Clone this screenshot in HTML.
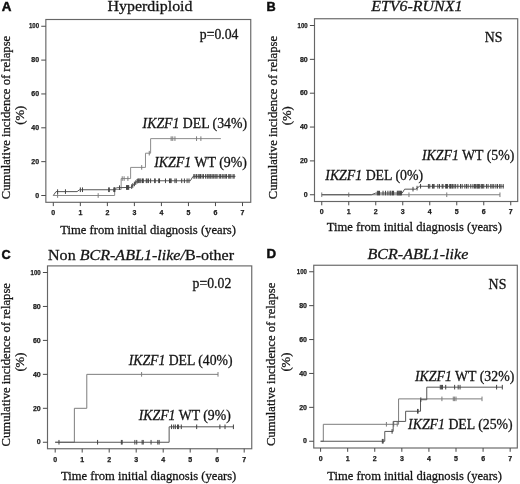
<!DOCTYPE html>
<html><head><meta charset="utf-8"><title>Figure</title>
<style>
html,body{margin:0;padding:0;background:#fff;}
svg{display:block;}
text{fill:#141414;stroke:#141414;stroke-width:0.28px;}
.tk{font-family:"Liberation Sans",sans-serif;font-size:7px;font-weight:bold;fill:#1a1a1a;stroke:#1a1a1a;stroke-width:0.25px;}
.pl{font-family:"Liberation Sans",sans-serif;font-size:12px;font-weight:bold;fill:#0c0c0c;stroke-width:0.45px;}
.tt{font-family:"Liberation Serif",serif;font-size:14.8px;}
.an{font-family:"Liberation Serif",serif;font-size:13.8px;}
.ax{font-family:"Liberation Serif",serif;font-size:12.8px;}
.ay{font-family:"Liberation Serif",serif;font-size:13.4px;}
.ap{font-family:"Liberation Serif",serif;font-size:11.6px;}
</style></head>
<body>
<svg width="520" height="484" viewBox="0 0 520 484">
<rect width="520" height="484" fill="#ffffff"/>
<rect x="45.85" y="19.50" width="204.90" height="182.80" fill="none" stroke="#666666" stroke-width="1.15"/>
<text x="39.05" y="197.70" text-anchor="end" class="tk">0</text>
<text x="39.05" y="163.85" text-anchor="end" class="tk">20</text>
<text x="39.05" y="130.00" text-anchor="end" class="tk">40</text>
<text x="39.05" y="96.15" text-anchor="end" class="tk">60</text>
<text x="39.05" y="62.30" text-anchor="end" class="tk">80</text>
<text x="39.05" y="28.45" text-anchor="end" class="tk" textLength="10.1" lengthAdjust="spacingAndGlyphs">100</text>
<text x="53.30" y="215.20" text-anchor="middle" class="tk">0</text>
<text x="80.33" y="215.20" text-anchor="middle" class="tk">1</text>
<text x="107.36" y="215.20" text-anchor="middle" class="tk">2</text>
<text x="134.39" y="215.20" text-anchor="middle" class="tk">3</text>
<text x="161.42" y="215.20" text-anchor="middle" class="tk">4</text>
<text x="188.45" y="215.20" text-anchor="middle" class="tk">5</text>
<text x="215.48" y="215.20" text-anchor="middle" class="tk">6</text>
<text x="242.51" y="215.20" text-anchor="middle" class="tk">7</text>
<path d="M41.25 195.50H45.85M41.25 161.65H45.85M41.25 127.80H45.85M41.25 93.95H45.85M41.25 60.10H45.85M41.25 26.25H45.85M53.30 202.30V206.10M80.33 202.30V206.10M107.36 202.30V206.10M134.39 202.30V206.10M161.42 202.30V206.10M188.45 202.30V206.10M215.48 202.30V206.10M242.51 202.30V206.10" fill="none" stroke="#4a4a4a" stroke-width="1.0"/>
<rect x="314.50" y="18.75" width="203.20" height="182.75" fill="none" stroke="#666666" stroke-width="1.15"/>
<text x="307.70" y="196.95" text-anchor="end" class="tk">0</text>
<text x="307.70" y="163.10" text-anchor="end" class="tk">20</text>
<text x="307.70" y="129.25" text-anchor="end" class="tk">40</text>
<text x="307.70" y="95.40" text-anchor="end" class="tk">60</text>
<text x="307.70" y="61.55" text-anchor="end" class="tk">80</text>
<text x="307.70" y="27.70" text-anchor="end" class="tk" textLength="10.1" lengthAdjust="spacingAndGlyphs">100</text>
<text x="321.75" y="214.40" text-anchor="middle" class="tk">0</text>
<text x="348.75" y="214.40" text-anchor="middle" class="tk">1</text>
<text x="375.75" y="214.40" text-anchor="middle" class="tk">2</text>
<text x="402.75" y="214.40" text-anchor="middle" class="tk">3</text>
<text x="429.75" y="214.40" text-anchor="middle" class="tk">4</text>
<text x="456.75" y="214.40" text-anchor="middle" class="tk">5</text>
<text x="483.75" y="214.40" text-anchor="middle" class="tk">6</text>
<text x="510.75" y="214.40" text-anchor="middle" class="tk">7</text>
<path d="M309.90 194.75H314.50M309.90 160.90H314.50M309.90 127.05H314.50M309.90 93.20H314.50M309.90 59.35H314.50M309.90 25.50H314.50M321.75 201.50V205.30M348.75 201.50V205.30M375.75 201.50V205.30M402.75 201.50V205.30M429.75 201.50V205.30M456.75 201.50V205.30M483.75 201.50V205.30M510.75 201.50V205.30" fill="none" stroke="#4a4a4a" stroke-width="1.0"/>
<rect x="47.50" y="265.90" width="204.25" height="182.85" fill="none" stroke="#666666" stroke-width="1.15"/>
<text x="40.70" y="444.45" text-anchor="end" class="tk">0</text>
<text x="40.70" y="410.50" text-anchor="end" class="tk">20</text>
<text x="40.70" y="376.55" text-anchor="end" class="tk">40</text>
<text x="40.70" y="342.60" text-anchor="end" class="tk">60</text>
<text x="40.70" y="308.65" text-anchor="end" class="tk">80</text>
<text x="40.70" y="274.70" text-anchor="end" class="tk" textLength="10.1" lengthAdjust="spacingAndGlyphs">100</text>
<text x="55.20" y="461.65" text-anchor="middle" class="tk">0</text>
<text x="82.20" y="461.65" text-anchor="middle" class="tk">1</text>
<text x="109.20" y="461.65" text-anchor="middle" class="tk">2</text>
<text x="136.20" y="461.65" text-anchor="middle" class="tk">3</text>
<text x="163.20" y="461.65" text-anchor="middle" class="tk">4</text>
<text x="190.20" y="461.65" text-anchor="middle" class="tk">5</text>
<text x="217.20" y="461.65" text-anchor="middle" class="tk">6</text>
<text x="244.20" y="461.65" text-anchor="middle" class="tk">7</text>
<path d="M42.90 442.25H47.50M42.90 408.30H47.50M42.90 374.35H47.50M42.90 340.40H47.50M42.90 306.45H47.50M42.90 272.50H47.50M55.20 448.75V452.55M82.20 448.75V452.55M109.20 448.75V452.55M136.20 448.75V452.55M163.20 448.75V452.55M190.20 448.75V452.55M217.20 448.75V452.55M244.20 448.75V452.55" fill="none" stroke="#4a4a4a" stroke-width="1.0"/>
<rect x="313.75" y="265.25" width="203.55" height="182.75" fill="none" stroke="#666666" stroke-width="1.15"/>
<text x="306.95" y="443.45" text-anchor="end" class="tk">0</text>
<text x="306.95" y="409.55" text-anchor="end" class="tk">20</text>
<text x="306.95" y="375.65" text-anchor="end" class="tk">40</text>
<text x="306.95" y="341.75" text-anchor="end" class="tk">60</text>
<text x="306.95" y="307.85" text-anchor="end" class="tk">80</text>
<text x="306.95" y="273.95" text-anchor="end" class="tk" textLength="10.1" lengthAdjust="spacingAndGlyphs">100</text>
<text x="320.60" y="460.90" text-anchor="middle" class="tk">0</text>
<text x="347.68" y="460.90" text-anchor="middle" class="tk">1</text>
<text x="374.76" y="460.90" text-anchor="middle" class="tk">2</text>
<text x="401.84" y="460.90" text-anchor="middle" class="tk">3</text>
<text x="428.92" y="460.90" text-anchor="middle" class="tk">4</text>
<text x="456.00" y="460.90" text-anchor="middle" class="tk">5</text>
<text x="483.08" y="460.90" text-anchor="middle" class="tk">6</text>
<text x="510.16" y="460.90" text-anchor="middle" class="tk">7</text>
<path d="M309.15 441.25H313.75M309.15 407.35H313.75M309.15 373.45H313.75M309.15 339.55H313.75M309.15 305.65H313.75M309.15 271.75H313.75M320.60 448.00V451.80M347.68 448.00V451.80M374.76 448.00V451.80M401.84 448.00V451.80M428.92 448.00V451.80M456.00 448.00V451.80M483.08 448.00V451.80M510.16 448.00V451.80" fill="none" stroke="#4a4a4a" stroke-width="1.0"/>
<path d="M53.30 195.50 H114.66 V189.41 H121.15 V178.57 H130.61 V167.40 H145.47 V153.19 H150.61 V138.63 H220.89 V138.63" fill="none" stroke="#8c8c8c" stroke-width="1.0" stroke-linejoin="miter"/>
<path d="M57.62 193.20v4.60M98.17 193.20v4.60M122.23 176.27v4.60M124.12 176.27v4.60M127.90 176.27v4.60M141.69 165.10v4.60M149.26 150.89v4.60M171.15 136.33v4.60M172.77 136.33v4.60M174.94 136.33v4.60M196.56 136.33v4.60M200.88 136.33v4.60" fill="none" stroke="#7c7c7c" stroke-width="1.0"/>
<path d="M53.30 195.50 L56.00 191.61 L77.09 191.61 L79.52 189.75 L114.66 189.75 L116.82 187.71 L130.88 187.38 L137.63 180.78 L190.34 180.78 L193.05 176.37 L235.48 176.37" fill="none" stroke="#565656" stroke-width="1.0" stroke-linejoin="miter"/>
<path d="M57.62 189.31v4.60M65.46 189.31v4.60M80.33 187.45v4.60M82.49 187.45v4.60M108.71 187.45v4.60M109.25 187.45v4.60M113.85 187.45v4.60M114.39 187.45v4.60M114.93 187.19v4.60M119.52 185.35v4.60M126.55 185.18v4.60M127.09 185.17v4.60M127.63 185.15v4.60M128.17 185.14v4.60M128.71 185.13v4.60M131.69 184.28v4.60M132.77 183.23v4.60M134.39 181.64v4.60M135.74 180.32v4.60M137.09 179.00v4.60M137.90 178.48v4.60M138.71 178.48v4.60M139.80 178.48v4.60M140.88 178.48v4.60M142.50 178.48v4.60M143.31 178.48v4.60M146.28 178.48v4.60M147.09 178.48v4.60M148.45 178.48v4.60M150.61 178.48v4.60M154.66 178.48v4.60M155.20 178.48v4.60M158.72 178.48v4.60M159.53 178.48v4.60M165.47 178.48v4.60M169.53 178.48v4.60M170.34 178.48v4.60M171.15 178.48v4.60M174.94 178.48v4.60M176.29 178.48v4.60M181.69 178.48v4.60M184.40 178.48v4.60M187.10 178.48v4.60M188.99 178.48v4.60M193.86 174.07v4.60M194.94 174.07v4.60M196.56 174.07v4.60M198.18 174.07v4.60M199.26 174.07v4.60M200.48 174.07v4.60M202.10 174.07v4.60M203.45 174.07v4.60M205.61 174.07v4.60M207.24 174.07v4.60M208.18 174.07v4.60M209.80 174.07v4.60M210.75 174.07v4.60M212.10 174.07v4.60M213.32 174.07v4.60M214.94 174.07v4.60M216.02 174.07v4.60M217.10 174.07v4.60M219.26 174.07v4.60M220.62 174.07v4.60M222.24 174.07v4.60M223.86 174.07v4.60M225.21 174.07v4.60M226.56 174.07v4.60M228.72 174.07v4.60M229.81 174.07v4.60M230.89 174.07v4.60M233.05 174.07v4.60M234.13 174.07v4.60" fill="none" stroke="#424242" stroke-width="1.0"/>
<path d="M321.75 194.75 H499.95 V194.75" fill="none" stroke="#7c7c7c" stroke-width="1.0" stroke-linejoin="miter"/>
<path d="M321.75 192.45v4.60M348.75 192.45v4.60M408.96 192.45v4.60M446.76 192.45v4.60M499.95 192.45v4.60" fill="none" stroke="#7c7c7c" stroke-width="1.0"/>
<path d="M321.75 194.75 L371.43 194.75 L375.75 193.06 L402.21 193.06 L404.64 189.16 L415.71 189.16 L419.49 186.29 L504.00 186.29" fill="none" stroke="#565656" stroke-width="1.0" stroke-linejoin="miter"/>
<path d="M377.37 190.76v4.60M378.45 190.76v4.60M379.53 190.76v4.60M383.04 190.76v4.60M385.47 190.76v4.60M387.90 190.76v4.60M390.06 190.76v4.60M390.87 190.76v4.60M392.49 190.76v4.60M393.57 190.76v4.60M397.35 190.76v4.60M398.16 190.76v4.60M398.97 190.76v4.60M399.78 190.76v4.60M400.59 190.76v4.60M401.40 190.76v4.60M413.01 186.86v4.60M417.06 185.84v4.60M420.57 183.99v4.60M428.40 183.99v4.60M429.75 183.99v4.60M432.45 183.99v4.60M433.26 183.99v4.60M434.07 183.99v4.60M437.85 183.99v4.60M439.47 183.99v4.60M442.17 183.99v4.60M442.98 183.99v4.60M445.68 183.99v4.60M446.49 183.99v4.60M447.57 183.99v4.60M449.73 183.99v4.60M450.54 183.99v4.60M451.89 183.99v4.60M452.70 183.99v4.60M454.05 183.99v4.60M455.67 183.99v4.60M457.83 183.99v4.60M460.53 183.99v4.60M462.15 183.99v4.60M464.85 183.99v4.60M466.47 183.99v4.60M468.09 183.99v4.60M470.79 183.99v4.60M472.95 183.99v4.60M474.57 183.99v4.60M475.65 183.99v4.60M477.00 183.99v4.60M477.81 183.99v4.60M478.62 183.99v4.60M479.70 183.99v4.60M481.32 183.99v4.60M482.40 183.99v4.60M483.75 183.99v4.60M486.45 183.99v4.60M488.07 183.99v4.60M490.77 183.99v4.60M492.12 183.99v4.60M493.74 183.99v4.60M495.90 183.99v4.60M497.52 183.99v4.60M499.68 183.99v4.60M501.03 183.99v4.60M503.19 183.99v4.60" fill="none" stroke="#424242" stroke-width="1.0"/>
<path d="M55.20 442.25 H74.37 V408.30 H86.79 V374.35 H218.01 V374.35" fill="none" stroke="#7c7c7c" stroke-width="1.0" stroke-linejoin="miter"/>
<path d="M141.60 372.05v4.60M218.01 372.05v4.60" fill="none" stroke="#7c7c7c" stroke-width="1.0"/>
<path d="M55.20 442.25 H169.14 V426.80 H233.40 V426.80" fill="none" stroke="#565656" stroke-width="1.0" stroke-linejoin="miter"/>
<path d="M58.98 439.95v4.60M97.59 439.95v4.60M121.35 439.95v4.60M122.16 439.95v4.60M134.85 439.95v4.60M136.74 439.95v4.60M142.14 439.95v4.60M143.22 439.95v4.60M151.05 439.95v4.60M157.80 439.95v4.60M159.15 439.95v4.60M171.57 424.50v4.60M173.73 424.50v4.60M175.35 424.50v4.60M177.51 424.50v4.60M178.59 424.50v4.60M181.29 424.50v4.60M196.68 424.50v4.60M219.90 424.50v4.60M225.03 424.50v4.60M233.40 424.50v4.60" fill="none" stroke="#424242" stroke-width="1.0"/>
<path d="M320.60 441.25 H323.31 V424.30 H398.59 V398.88 H482.00 V398.88" fill="none" stroke="#7c7c7c" stroke-width="1.0" stroke-linejoin="miter"/>
<path d="M386.40 422.00v4.60M393.72 422.00v4.60M397.24 422.00v4.60M441.92 396.57v4.60M453.29 396.57v4.60M454.65 396.57v4.60M456.00 396.57v4.60M482.00 396.57v4.60" fill="none" stroke="#7c7c7c" stroke-width="1.0"/>
<path d="M320.60 441.25 H384.78 V431.42 H393.17 V421.42 H405.63 V411.25 H420.53 V399.72 H426.75 V387.18 H502.31 V387.18" fill="none" stroke="#565656" stroke-width="1.0" stroke-linejoin="miter"/>
<path d="M382.34 438.95v4.60M383.15 438.95v4.60M392.09 429.12v4.60M417.55 408.95v4.60M418.09 408.95v4.60M420.80 397.42v4.60M440.29 384.88v4.60M441.38 384.88v4.60M442.46 384.88v4.60M445.71 384.88v4.60M454.65 384.88v4.60M458.17 384.88v4.60M460.06 384.88v4.60M496.62 384.88v4.60M502.31 384.88v4.60" fill="none" stroke="#424242" stroke-width="1.0"/>

<text x="1.70" y="11.3" class="pl" textLength="9.70" lengthAdjust="spacingAndGlyphs">A</text>
<text x="266.40" y="11.0" class="pl" textLength="9.20" lengthAdjust="spacingAndGlyphs">B</text>
<text x="1.60" y="258.9" class="pl" textLength="9.20" lengthAdjust="spacingAndGlyphs">C</text>
<text x="266.40" y="258.2" class="pl" textLength="9.60" lengthAdjust="spacingAndGlyphs">D</text>
<text x="107.50" y="11.3" class="tt" textLength="85.00" lengthAdjust="spacingAndGlyphs">Hyperdiploid</text>
<text x="371.20" y="11.3" class="tt" textLength="91.20" lengthAdjust="spacingAndGlyphs"><tspan font-style="italic">ETV6-RUNX1</tspan></text>
<text x="48.00" y="259.5" class="tt" textLength="186.00" lengthAdjust="spacingAndGlyphs">Non <tspan font-style="italic">BCR-ABL1-like/</tspan>B-other</text>
<text x="367.50" y="259.1" class="tt" textLength="100.80" lengthAdjust="spacingAndGlyphs"><tspan font-style="italic">BCR-ABL1-like</tspan></text>
<text x="199.80" y="39.3" class="an" textLength="38.60" lengthAdjust="spacingAndGlyphs">p=0.04</text>
<text x="484.70" y="42.4" class="an" textLength="17.70" lengthAdjust="spacingAndGlyphs">NS</text>
<text x="192.60" y="287.8" class="an" textLength="38.70" lengthAdjust="spacingAndGlyphs">p=0.02</text>
<text x="488.60" y="289.2" class="an" textLength="17.80" lengthAdjust="spacingAndGlyphs">NS</text>
<text x="142.60" y="127.8" class="an" textLength="104.40" lengthAdjust="spacingAndGlyphs"><tspan font-style="italic">IKZF1</tspan> DEL (34%)</text>
<text x="154.20" y="166.5" class="an" textLength="92.80" lengthAdjust="spacingAndGlyphs"><tspan font-style="italic">IKZF1</tspan> WT (9%)</text>
<text x="325.30" y="180.2" class="an" textLength="97.80" lengthAdjust="spacingAndGlyphs"><tspan font-style="italic">IKZF1</tspan> DEL (0%)</text>
<text x="422.00" y="159.5" class="an" textLength="92.40" lengthAdjust="spacingAndGlyphs"><tspan font-style="italic">IKZF1</tspan> WT (5%)</text>
<text x="128.70" y="364.5" class="an" textLength="103.90" lengthAdjust="spacingAndGlyphs"><tspan font-style="italic">IKZF1</tspan> DEL (40%)</text>
<text x="138.70" y="420.0" class="an" textLength="92.10" lengthAdjust="spacingAndGlyphs"><tspan font-style="italic">IKZF1</tspan> WT (9%)</text>
<text x="415.00" y="380.8" class="an" textLength="99.30" lengthAdjust="spacingAndGlyphs"><tspan font-style="italic">IKZF1</tspan> WT (32%)</text>
<text x="408.10" y="429.2" class="an" textLength="104.60" lengthAdjust="spacingAndGlyphs"><tspan font-style="italic">IKZF1</tspan> DEL (25%)</text>
<text x="60.20" y="234.0" class="ax" textLength="175.80" lengthAdjust="spacingAndGlyphs">Time from initial diagnosis (years)</text>
<text x="326.80" y="231.3" class="ax" textLength="175.10" lengthAdjust="spacingAndGlyphs">Time from initial diagnosis (years)</text>
<text x="61.00" y="480.3" class="ax" textLength="175.30" lengthAdjust="spacingAndGlyphs">Time from initial diagnosis (years)</text>
<text x="327.30" y="479.9" class="ax" textLength="174.60" lengthAdjust="spacingAndGlyphs">Time from initial diagnosis (years)</text>
<text transform="translate(9.9 199.20) rotate(-90)" class="ay" textLength="163.4" lengthAdjust="spacingAndGlyphs">Cumulative incidence of relapse</text>
<text transform="translate(24.3 124.70) rotate(-90)" class="ap" textLength="19.0" lengthAdjust="spacingAndGlyphs">(%)</text>
<text transform="translate(276.7 199.30) rotate(-90)" class="ay" textLength="163.4" lengthAdjust="spacingAndGlyphs">Cumulative incidence of relapse</text>
<text transform="translate(291.4 125.30) rotate(-90)" class="ap" textLength="19.0" lengthAdjust="spacingAndGlyphs">(%)</text>
<text transform="translate(9.5 446.40) rotate(-90)" class="ay" textLength="163.4" lengthAdjust="spacingAndGlyphs">Cumulative incidence of relapse</text>
<text transform="translate(23.9 371.60) rotate(-90)" class="ap" textLength="19.0" lengthAdjust="spacingAndGlyphs">(%)</text>
<text transform="translate(275.3 446.10) rotate(-90)" class="ay" textLength="163.4" lengthAdjust="spacingAndGlyphs">Cumulative incidence of relapse</text>
<text transform="translate(290.3 371.60) rotate(-90)" class="ap" textLength="19.0" lengthAdjust="spacingAndGlyphs">(%)</text>

</svg>
</body></html>
